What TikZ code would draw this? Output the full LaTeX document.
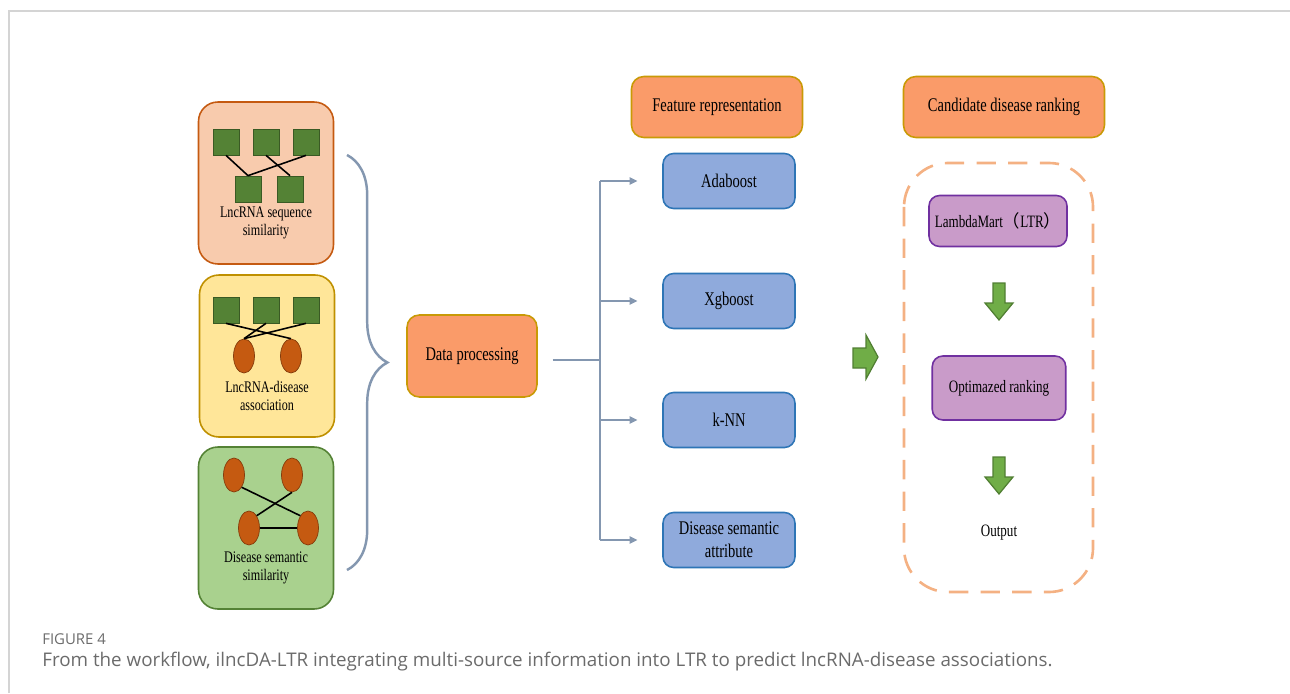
\documentclass[tikz,border=0pt]{standalone}
\usepackage{fontspec}
\setmainfont{Liberation Serif}[FakeStretch=0.75]
\newfontfamily\capfont{Open Sans}
\newfontfamily\cjk{Noto Sans CJK SC}
\usetikzlibrary{shapes.geometric,decorations.pathreplacing,arrows.meta}

\definecolor{peachfill}{HTML}{F8CBAD}
\definecolor{peachline}{HTML}{C55A11}
\definecolor{yellowfill}{HTML}{FFE699}
\definecolor{yellowline}{HTML}{BF9000}
\definecolor{greenfill}{HTML}{A9D18E}
\definecolor{greenline}{HTML}{548235}
\definecolor{sqfill}{HTML}{548235}
\definecolor{sqline}{HTML}{3A5A24}
\definecolor{elfill}{HTML}{C55A11}
\definecolor{elline}{HTML}{843C0C}
\definecolor{linkcol}{HTML}{8497B0}
\definecolor{headfill}{HTML}{FA9B69}
\definecolor{headline}{HTML}{C99A06}
\definecolor{bluefill}{HTML}{8FAADC}
\definecolor{blueline}{HTML}{2E75B6}
\definecolor{plumfill}{HTML}{C99BC9}
\definecolor{plumline}{HTML}{7030A0}
\definecolor{dashcol}{HTML}{F4B183}
\definecolor{arrowfill}{HTML}{70AD47}
\definecolor{arrowline}{HTML}{507E32}
\definecolor{framecol}{HTML}{D4D4D4}
\definecolor{capcol}{HTML}{6B6B6B}

\begin{document}
\begin{tikzpicture}[
x=0.02cm, y=-0.02cm,
every node/.style={font=\fontsize{11}{13}\selectfont},
srcbox/.style={rounded corners=11pt, line width=0.9pt, minimum width=2.7cm, minimum height=3.24cm},
sqnode/.style={rectangle, fill=sqfill, draw=sqline, minimum size=0.52cm, inner sep=0pt},
ellnode/.style={ellipse, fill=elfill, draw=elline, minimum width=0.42cm, minimum height=0.68cm, inner sep=0pt},
edgeline/.style={black, line width=0.9pt},
srclabel/.style={align=center, font=\fontsize{9.2}{10.2}\selectfont},
headbox/.style={rounded corners=7pt, fill=headfill, draw=headline, line width=0.9pt, minimum height=1.22cm},
modelbox/.style={rounded corners=6pt, fill=bluefill, draw=blueline, line width=0.9pt, minimum width=2.64cm, minimum height=1.1cm, align=center},
rankbox/.style={rounded corners=6pt, fill=plumfill, draw=plumline, line width=0.9pt, minimum width=2.67cm, font=\fontsize{9.9}{12}\selectfont},
link/.style={linkcol, line width=1.1pt},
blockarrow/.style={fill=arrowfill, draw=arrowline, line width=0.7pt, line join=miter}
]

    \useasboundingbox (0,0) rectangle (1290,693);

    % Page frame
    \draw[framecol, line width=1.2pt] (9,693) -- (9,11) -- (1290,11);

    % Source boxes
    \node[srcbox, fill=peachfill, draw=peachline] (seqbox) at (266,183) {};
    \node[srcbox, fill=yellowfill, draw=yellowline] (assocbox) at (267,356) {};
    \node[srcbox, fill=greenfill, draw=greenline] (dsbox) at (266,528) {};

    % LncRNA sequence similarity
    \node[sqnode] (s1) at (226,142) {};
    \node[sqnode] (s2) at (266,142) {};
    \node[sqnode] (s3) at (306,142) {};
    \node[sqnode] (s4) at (248,189) {};
    \node[sqnode] (s5) at (290,189) {};
    \draw[edgeline] (s1.south) -- (s4.north);
    \draw[edgeline] (s3.south) -- (s4.north);
    \draw[edgeline] (s2.south) -- (s5.north);
    \node[srclabel] (seqtext) at (266,223) {LncRNA sequence\\similarity};

    % LncRNA-disease association
    \node[sqnode] (a1) at (226,310) {};
    \node[sqnode] (a2) at (266,310) {};
    \node[sqnode] (a3) at (306,310) {};
    \node[ellnode] (ad1) at (244,356) {};
    \node[ellnode] (ad2) at (291,356) {};
    \draw[edgeline] (a1.south) -- (ad2.north);
    \draw[edgeline] (a2.south) -- (ad1.north);
    \draw[edgeline] (a3.south) -- (ad1.north);
    \node[srclabel] (assoctext) at (267,396) {LncRNA-disease\\association};

    % Disease semantic similarity
    \node[ellnode] (d1) at (234,475) {};
    \node[ellnode] (d2) at (292,475) {};
    \node[ellnode] (d3) at (249,528) {};
    \node[ellnode] (d4) at (308,528) {};
    \draw[edgeline] (d1.south east) -- (d4.north west);
    \draw[edgeline] (d2.south) -- (d3.north east);
    \draw[edgeline] (d3.east) -- (d4.west);
    \node[srclabel] (dstext) at (266,568) {Disease semantic\\similarity};

    % Brace
    \draw[link, line width=1.4pt, decorate, decoration={brace, amplitude=23pt, aspect=0.5}] (347,155) -- (347,570);

    % Data processing
    \node[headbox, minimum width=2.6cm, minimum height=1.64cm] (dp) at (472,356) {Data processing};
    \coordinate (split) at (600,360);

    % Feature representation
    \node[headbox, minimum width=3.42cm] (feat) at (717,107) {Feature representation};
    \node[modelbox] (ada) at (729,181) {Adaboost};
    \node[modelbox] (xgb) at (729,301) {Xgboost};
    \node[modelbox] (knn) at (729,420) {k-NN};
    \node[modelbox] (dsa) at (729,540) {Disease semantic\\attribute};

    \draw[link] ([xshift=8.5pt]dp.east |- split) -- (split);
    \draw[link] (split |- ada) -- (split |- dsa);
    \foreach \m in {ada,xgb,knn,dsa} {
        \draw[link, -{Triangle[length=4.5pt,width=4pt]}, shorten >=14pt] (split |- \m) -- (\m.west);
    }

    % Candidate disease ranking
    \node[headbox, minimum width=4.02cm] (cand) at (1004,107) {Candidate disease ranking};
    \draw[dashcol, line width=1.5pt, dash pattern=on 11pt off 7pt, rounded corners=25pt]
        (904,163) rectangle (1093,592);
    \node[rankbox, minimum height=1.02cm] (lmart) at (998,221) {LambdaMart{\cjk （}LTR{\cjk ）}};
    \node[rankbox, minimum height=1.28cm] (optrank) at (999,388) {Optimazed ranking};
    \node[font=\fontsize{9.9}{12}\selectfont] (out) at (999,533) {Output};

    % Block arrows
    \filldraw[blockarrow] (853,348) -- (866,348) -- (866,335) -- (878,357) -- (866,379) -- (866,368) -- (853,368) -- cycle;
    \foreach \y in {283,457} {
        \filldraw[blockarrow] (993,\y) -- (1005,\y) -- (1005,\y+20) -- (1013,\y+20) -- (999,\y+37) -- (985,\y+20) -- (993,\y+20) -- cycle;
    }

    % Caption
    \node[anchor=west, inner sep=0pt, text=capcol, font=\capfont\fontsize{8.5}{10}\selectfont] (figno) at (42,639) {FIGURE 4};
    \node[anchor=west, inner sep=0pt, text=capcol, font=\capfont\fontsize{10.7}{13}\selectfont] (caption) at (42,662)
    {From the workflow, ilncDA-LTR integrating multi-source information into LTR to predict lncRNA-disease associations.};

\end{tikzpicture}
\end{document}
